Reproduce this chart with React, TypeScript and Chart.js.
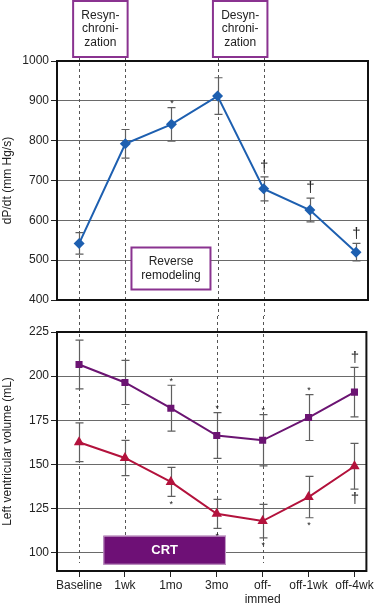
import React, { useEffect, useRef } from 'react';
import { Chart, registerables } from 'chart.js';

Chart.register(...registerables);

// ---------- data ----------
const categories = ['Baseline', '1wk', '1mo', '3mo', 'off-\nimmed', 'off-1wk', 'off-4wk'];

const dpdtValues = [542, 792, 841, 912, 679, 626, 520];
const dpdtErrors = [27, 36, 42, 46, 30, 30, 22];
const dpdtMarks = ['', '', '*', '', '†', '†', '†'];

const edvValues = [206.6, 196.4, 181.8, 166.3, 163.6, 176.5, 190.9];
const edvErrors = [13.8, 12.5, 13, 13, 14.5, 13, 14];
const edvMarks = ['', '', '*', '*', '*', '*', '†'];

const esvValues = [162.5, 153.6, 140, 121.9, 117.8, 131.4, 148.9];
const esvErrors = [11, 10, 8.2, 8.2, 9.5, 11.7, 13];
const esvMarks = ['', '', '*', '*', '*', '*', '†'];

const dpdtTicks = [400, 500, 600, 700, 800, 900, 1000];
const volumeTicks = [100, 125, 150, 175, 200, 225];
const dashedCategories = [0, 1, 3, 4];

// ---------- styles ----------
const FONT = "'Liberation Sans', Arial, Helvetica, sans-serif";
const TEXT = '#222';
const GRID = '#6a6a6a';
const ERR = '#5f5f5f';
const BOX_PURPLE = '#8a3390';
const X_MIN = -0.48;
const X_MAX = 6.26;

const toPoints = (vals: number[]) => vals.map((v, i) => ({ x: i, y: v }));

function drawErrorBars(chart: any, sets: { values: number[]; errors: number[] }[]) {
  const { ctx } = chart;
  const xs = chart.scales.x;
  const ys = chart.scales.y;
  ctx.save();
  ctx.strokeStyle = ERR;
  ctx.lineWidth = 1.2;
  sets.forEach(({ values, errors }) => {
    values.forEach((v, i) => {
      const x = Math.round(xs.getPixelForValue(i)) + 0.5;
      const yt = ys.getPixelForValue(v + errors[i]);
      const yb = ys.getPixelForValue(v - errors[i]);
      ctx.beginPath();
      ctx.moveTo(x, yt);
      ctx.lineTo(x, yb);
      ctx.moveTo(x - 4, yt);
      ctx.lineTo(x + 4, yt);
      ctx.moveTo(x - 4, yb);
      ctx.lineTo(x + 4, yb);
      ctx.stroke();
    });
  });
  ctx.restore();
}

function drawMarks(chart: any, values: number[], errors: number[], marks: string[], dir: number) {
  const { ctx } = chart;
  const xs = chart.scales.x;
  const ys = chart.scales.y;
  ctx.save();
  ctx.fillStyle = TEXT;
  ctx.textAlign = 'center';
  ctx.textBaseline = 'middle';
  marks.forEach((m, i) => {
    if (!m) return;
    const x = xs.getPixelForValue(i) + 0.5;
    const cap = ys.getPixelForValue(values[i] - dir * errors[i]);
    if (m === '*') {
      ctx.font = `9px ${FONT}`;
      ctx.fillText(m, x, cap + dir * 6 + 2);
    } else {
      ctx.font = `15px ${FONT}`;
      ctx.fillText(m, x, cap + dir * 10);
    }
  });
  ctx.restore();
}

function drawDashed(chart: any, y0: number, y1: number) {
  const { ctx } = chart;
  const xs = chart.scales.x;
  ctx.save();
  ctx.strokeStyle = '#555';
  ctx.lineWidth = 1;
  ctx.setLineDash([3, 3]);
  dashedCategories.forEach((c) => {
    const x = Math.round(xs.getPixelForValue(c)) + 0.5;
    ctx.beginPath();
    ctx.moveTo(x, y0);
    ctx.lineTo(x, y1);
    ctx.stroke();
  });
  ctx.restore();
}

function drawFrame(chart: any) {
  const { ctx, chartArea: a } = chart;
  ctx.save();
  ctx.strokeStyle = '#111';
  ctx.lineWidth = 2;
  ctx.strokeRect(a.left, a.top, a.right - a.left, a.bottom - a.top);
  ctx.restore();
}

function drawLabelBox(ctx: CanvasRenderingContext2D, cx: number, top: number, w: number, h: number, lines: string[], lineGap: number) {
  ctx.save();
  ctx.fillStyle = '#fff';
  ctx.fillRect(cx - w / 2, top, w, h);
  ctx.strokeStyle = BOX_PURPLE;
  ctx.lineWidth = 2;
  ctx.strokeRect(cx - w / 2, top, w, h);
  ctx.fillStyle = TEXT;
  ctx.font = `12px ${FONT}`;
  ctx.textAlign = 'center';
  ctx.textBaseline = 'middle';
  const start = top + h / 2 - ((lines.length - 1) * lineGap) / 2;
  lines.forEach((l, i) => ctx.fillText(l, cx, start + i * lineGap));
  ctx.restore();
}

const yTickFont = { family: FONT, size: 12 };
const plainTick = (v: any) => String(v);

export default function App() {
  const topRef = useRef<HTMLCanvasElement>(null);
  const botRef = useRef<HTMLCanvasElement>(null);

  useEffect(() => {
    const topChart = new Chart(topRef.current as HTMLCanvasElement, {
      type: 'line',
      data: {
        datasets: [
          {
            data: toPoints(dpdtValues),
            borderColor: '#1d5fb0',
            backgroundColor: '#1d5fb0',
            borderWidth: 2,
            pointStyle: 'rectRot',
            pointRadius: 5.5,
            pointBorderWidth: 0,
          },
        ],
      },
      options: {
        responsive: false,
        animation: false,
        devicePixelRatio: 1,
        layout: { padding: { top: 61, right: 8, bottom: 16, left: 0 } },
        plugins: { legend: { display: false }, tooltip: { enabled: false } },
        scales: {
          x: { type: 'linear', min: X_MIN, max: X_MAX, display: false },
          y: {
            type: 'linear',
            min: 400,
            max: 1000,
            afterBuildTicks: (s: any) => {
              s.ticks = dpdtTicks.map((v) => ({ value: v }));
            },
            afterFit: (s: any) => {
              s.width = 57;
            },
            ticks: { font: yTickFont, color: TEXT, padding: 2, callback: plainTick },
            grid: { color: GRID, tickColor: '#222', tickLength: 6, lineWidth: 1 },
            border: { display: false },
            title: { display: true, text: 'dP/dt (mm Hg/s)', color: TEXT, font: yTickFont, padding: 0 },
          },
        },
      },
      plugins: [
        {
          id: 'topDecor',
          beforeDatasetsDraw(chart: any) {
            drawDashed(chart, 57, chart.height);
            drawFrame(chart);
            drawErrorBars(chart, [{ values: dpdtValues, errors: dpdtErrors }]);
          },
          afterDatasetsDraw(chart: any) {
            drawMarks(chart, dpdtValues, dpdtErrors, dpdtMarks, -1);
          },
          afterDraw(chart: any) {
            const xs = chart.scales.x;
            const ctx = chart.ctx;
            drawLabelBox(ctx, xs.getPixelForValue(0.46), 1, 54.5, 56, ['Resyn-', 'chroni-', 'zation'], 13.7);
            drawLabelBox(ctx, xs.getPixelForValue(3.49), 1, 54.5, 56, ['Desyn-', 'chroni-', 'zation'], 13.7);
            drawLabelBox(ctx, xs.getPixelForValue(1.99), 247.5, 79, 42, ['Reverse', 'remodeling'], 13.5);
          },
        },
      ],
    } as any);

    const botChart = new Chart(botRef.current as HTMLCanvasElement, {
      type: 'line',
      data: {
        datasets: [
          {
            data: toPoints(edvValues),
            borderColor: '#6b1472',
            backgroundColor: '#6b1472',
            borderWidth: 2,
            pointStyle: 'rect',
            pointRadius: 5,
            pointBorderWidth: 0,
          },
          {
            data: toPoints(esvValues),
            borderColor: '#b3123c',
            backgroundColor: '#b3123c',
            borderWidth: 2,
            pointStyle: 'triangle',
            pointRadius: 6,
            pointBorderWidth: 0,
          },
        ],
      },
      options: {
        responsive: false,
        animation: false,
        devicePixelRatio: 1,
        layout: { padding: { top: 16, right: 8, bottom: 0, left: 0 } },
        plugins: { legend: { display: false }, tooltip: { enabled: false } },
        scales: {
          x: {
            type: 'linear',
            min: X_MIN,
            max: X_MAX,
            afterBuildTicks: (s: any) => {
              s.ticks = categories.map((_, i) => ({ value: i }));
            },
            afterFit: (s: any) => {
              s.height = 35;
            },
            ticks: {
              autoSkip: false,
              maxRotation: 0,
              padding: 2,
              color: TEXT,
              font: { family: FONT, size: 12, lineHeight: 1.15 },
              callback: (v: any) => {
                const lbl = categories[Math.round(Number(v))];
                return lbl ? lbl.split('\n') : '';
              },
            },
            grid: { drawOnChartArea: false, tickColor: '#222', tickLength: 6 },
            border: { display: false },
          },
          y: {
            type: 'linear',
            min: 89.5,
            max: 225,
            afterBuildTicks: (s: any) => {
              s.ticks = volumeTicks.map((v) => ({ value: v }));
            },
            afterFit: (s: any) => {
              s.width = 57;
            },
            ticks: { font: yTickFont, color: TEXT, padding: 2, callback: plainTick },
            grid: { color: GRID, tickColor: '#222', tickLength: 6, lineWidth: 1 },
            border: { display: false },
            title: { display: true, text: 'Left ventricular volume (mL)', color: TEXT, font: yTickFont, padding: 0 },
          },
        },
      },
      plugins: [
        {
          id: 'botDecor',
          beforeDatasetsDraw(chart: any) {
            drawDashed(chart, 0, 247);
            drawFrame(chart);
            drawErrorBars(chart, [
              { values: edvValues, errors: edvErrors },
              { values: esvValues, errors: esvErrors },
            ]);
          },
          afterDatasetsDraw(chart: any) {
            drawMarks(chart, edvValues, edvErrors, edvMarks, -1);
            drawMarks(chart, esvValues, esvErrors, esvMarks, 1);
          },
          afterDraw(chart: any) {
            const ctx = chart.ctx;
            const xs = chart.scales.x;
            const x0 = xs.getPixelForValue(0.53);
            const x1 = xs.getPixelForValue(3.2);
            ctx.save();
            ctx.fillStyle = '#6e1076';
            ctx.fillRect(x0, 219.7, x1 - x0, 29);
            ctx.strokeStyle = '#c7a3cb';
            ctx.lineWidth = 1;
            ctx.strokeRect(x0 + 0.5, 220.2, x1 - x0 - 1, 28);
            ctx.fillStyle = '#fff';
            ctx.font = `bold 13px ${FONT}`;
            ctx.textAlign = 'center';
            ctx.textBaseline = 'middle';
            ctx.fillText('CRT', (x0 + x1) / 2, 234.5);
            ctx.restore();
          },
        },
      ],
    } as any);

    return () => {
      topChart.destroy();
      botChart.destroy();
    };
  }, []);

  return (
    <div style={{ position: 'absolute', left: 0, top: 0, width: 376, height: 606, background: '#fff' }}>
      <canvas ref={topRef} width={376} height={316} style={{ position: 'absolute', left: 0, top: 0, display: 'block' }} />
      <canvas ref={botRef} width={376} height={290} style={{ position: 'absolute', left: 0, top: 316, display: 'block' }} />
    </div>
  );
}
